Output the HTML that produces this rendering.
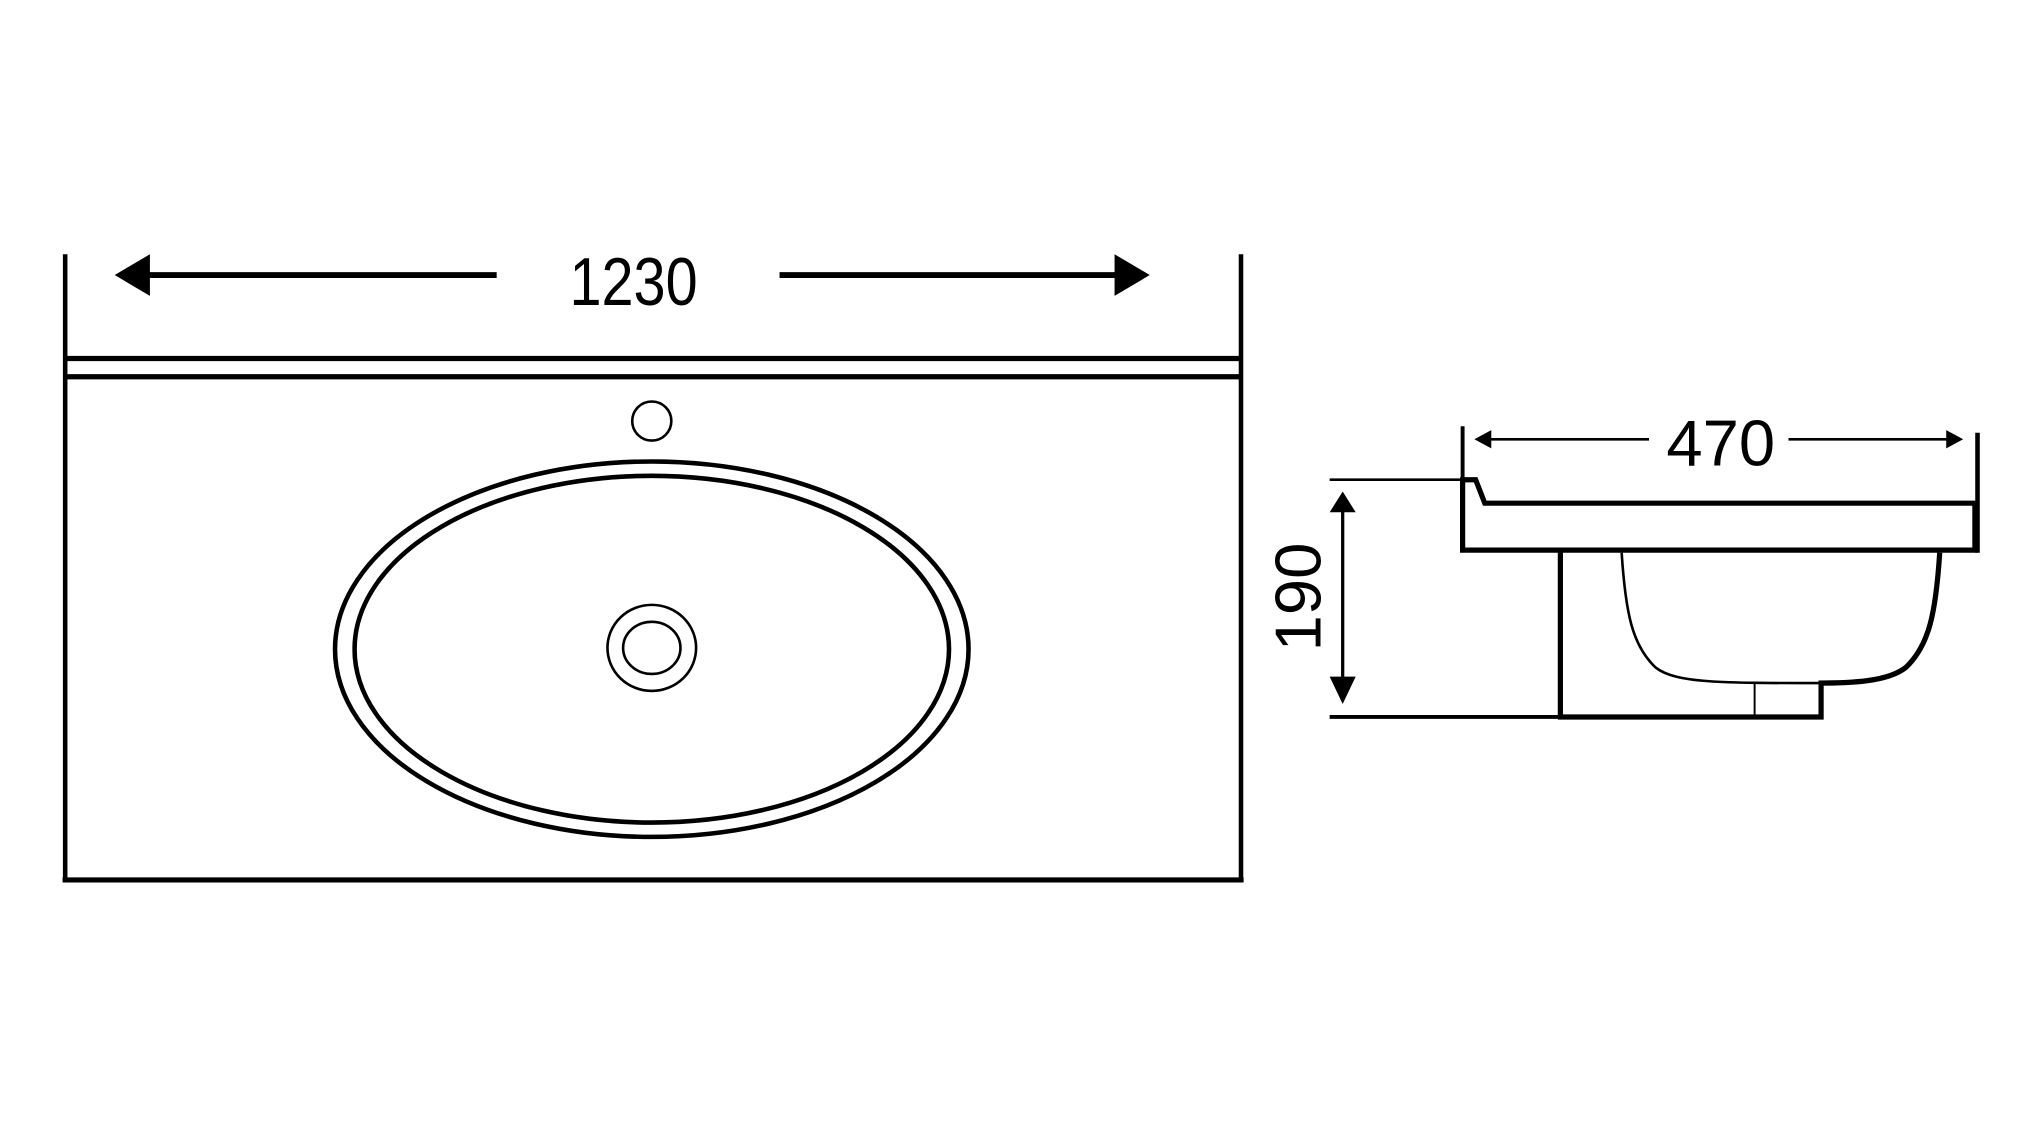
<!DOCTYPE html>
<html><head><meta charset="utf-8"><style>
html,body{margin:0;padding:0;background:#fff;}
svg{display:block;}
</style></head><body>
<svg width="2044" height="1125" viewBox="0 0 1568 863" preserveAspectRatio="none" xmlns="http://www.w3.org/2000/svg">
<rect width="1568" height="863" fill="#fff"/>
<g stroke="#000" fill="none">
<line x1="50" y1="195" x2="50" y2="677" stroke-width="3.5"/>
<line x1="952" y1="195" x2="952" y2="677" stroke-width="3.5"/>
<line x1="50" y1="275" x2="952" y2="275" stroke-width="4"/>
<line x1="50" y1="289" x2="952" y2="289" stroke-width="4"/>
<line x1="48" y1="675" x2="954" y2="675" stroke-width="4"/>
<line x1="113" y1="211" x2="381" y2="211" stroke-width="4.5"/>
<line x1="598" y1="211" x2="857" y2="211" stroke-width="4.5"/>
<circle cx="500" cy="323" r="15" stroke-width="2"/>
<ellipse cx="500" cy="498" rx="243" ry="144" stroke-width="3.5"/>
<ellipse cx="500" cy="498" rx="228" ry="133" stroke-width="3.5"/>
<ellipse cx="500" cy="497" rx="34" ry="33" stroke-width="2"/>
<ellipse cx="500" cy="497" rx="22" ry="20" stroke-width="2"/>
<line x1="1122" y1="327" x2="1122" y2="368" stroke-width="3"/>
<line x1="1517" y1="332" x2="1517" y2="424" stroke-width="3.5"/>
<line x1="1140" y1="337" x2="1265" y2="337" stroke-width="2"/>
<line x1="1372" y1="337" x2="1497" y2="337" stroke-width="2"/>
<line x1="1020" y1="368" x2="1122" y2="368" stroke-width="2"/>
<path d="M1122 422 L1122 368 L1132 368 L1139 386 L1515 386 L1515 422 Z" stroke-width="4"/>
<path d="M1197 422 L1197 550 L1397 550 L1397 524" stroke-width="4"/>
<path d="M1244 424 C1247 470 1252 495 1270 512 C1285 524 1320 524 1397 524" stroke-width="2"/>
<path d="M1488 424 C1485 470 1480 495 1462 512 C1448 523 1420 524 1395 524" stroke-width="4"/>
<line x1="1346" y1="524" x2="1346" y2="550" stroke-width="1.5"/>
<line x1="1020" y1="550" x2="1197" y2="550" stroke-width="3"/>
<line x1="1030" y1="385" x2="1030" y2="525" stroke-width="2.5"/>
</g>
<g fill="#000">
<polygon points="88,211 115,195 115,227"/>
<polygon points="882,211 855,195 855,227"/>
<polygon points="1131,337 1144,330 1144,344"/>
<polygon points="1506,337 1493,330 1493,344"/>
<polygon points="1030,377 1020,393 1040,393"/>
<polygon points="1030,540 1020,519 1040,519"/>
</g>
<g style="font-family:'Liberation Sans',Arial,sans-serif" fill="#000">
<text x="0" y="0" font-size="52" text-anchor="middle" transform="translate(486 234) scale(0.85 1)">1230</text>
<text x="0" y="0" font-size="50" text-anchor="middle" transform="translate(1320 357)">470</text>
<text x="0" y="0" font-size="50" text-anchor="middle" transform="translate(1013 458) rotate(-90)">190</text>
</g>
</svg>
</body></html>
